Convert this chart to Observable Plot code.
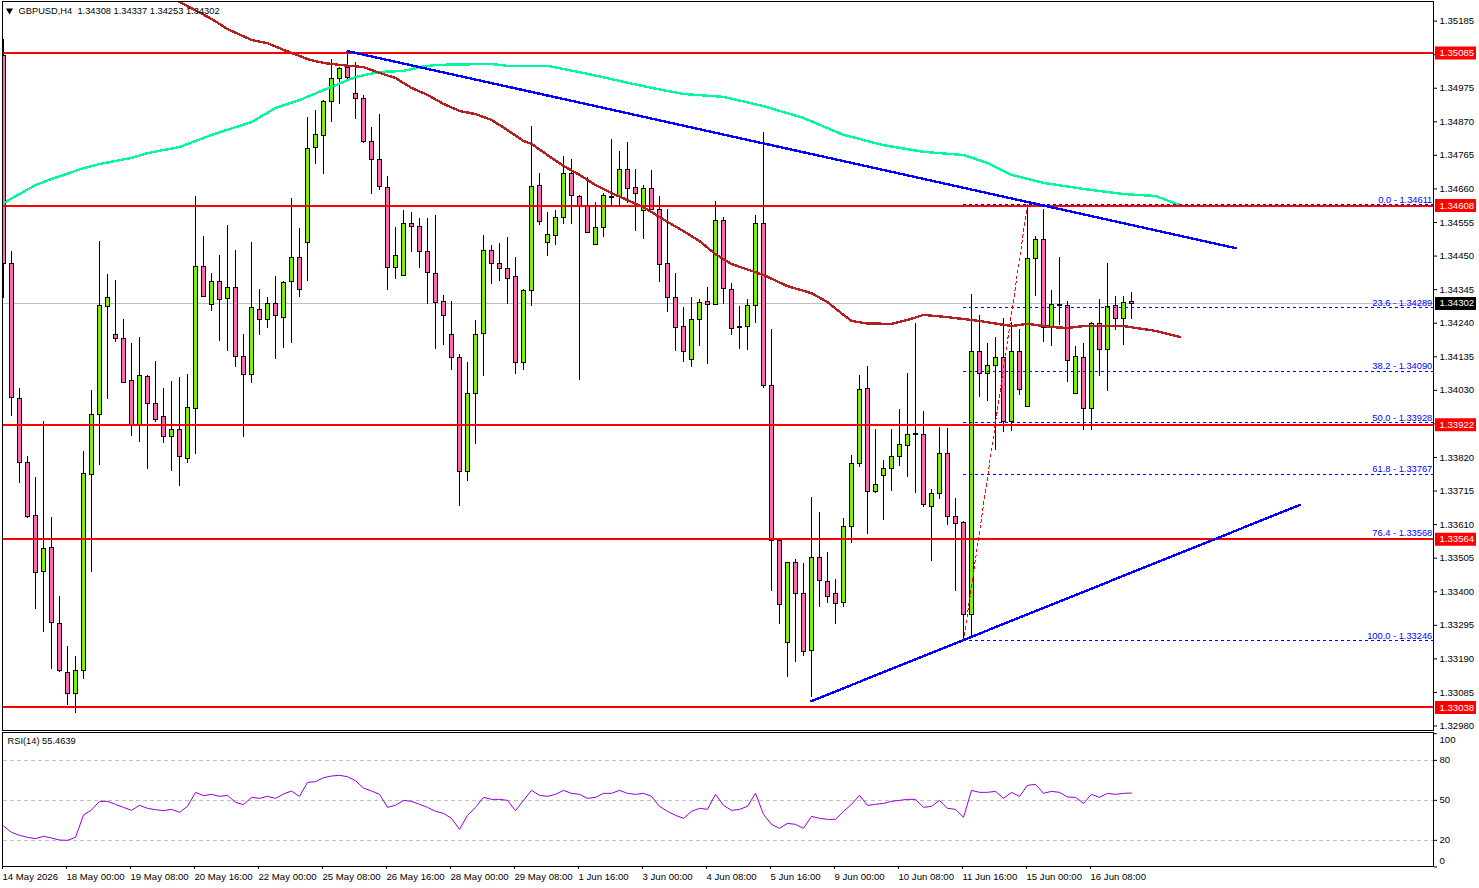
<!DOCTYPE html>
<html><head><meta charset="utf-8">
<style>html,body{margin:0;padding:0;background:#fff;overflow:hidden}svg{display:block;max-width:none!important}</style>
<script src="https://cdn.jsdelivr.net/npm/d3@7"></script>
<script src="https://cdn.jsdelivr.net/npm/@observablehq/plot@0.6"></script>
</head><body><div id="chart"></div>
<script>
const wickHigh=[1.35129,1.34463,1.34037,1.33822,1.33756,1.33934,1.33631,1.33384,1.33230,1.33196,
1.33840,1.34031,1.34497,1.34391,1.34375,1.34253,1.34178,1.34194,1.34075,1.34119,
1.34037,1.34059,1.34069,1.34078,1.34635,1.34510,1.34394,1.34453,1.34547,1.34466,
1.34206,1.34494,1.34344,1.34319,1.34385,1.34369,1.34629,1.34535,1.34882,1.34904,
1.34938,1.35066,1.35041,1.35088,1.35054,1.34951,1.34851,1.34894,1.34700,1.34538,
1.34591,1.34585,1.34569,1.34566,1.34578,1.34328,1.34309,1.34141,1.34116,1.34250,
1.34513,1.34482,1.34488,1.34507,1.34447,1.34344,1.34854,1.34707,1.34585,1.34591,
1.34760,1.34751,1.34638,1.34697,1.34619,1.34647,1.34816,1.34776,1.34804,1.34722,
1.34672,1.34719,1.34635,1.34597,1.34397,1.34288,1.34319,1.34313,1.34353,1.34622,
1.34572,1.34363,1.34291,1.34313,1.34578,1.34835,1.34219,1.33568,1.33490,1.33502,
1.33487,1.33696,1.33649,1.33524,1.33437,1.33628,1.33825,1.34075,1.34106,1.33906,
1.33809,1.33906,1.33969,1.34084,1.34238,1.33965,1.33721,1.33915,1.33912,1.33693,
1.33621,1.34331,1.34263,1.34178,1.34194,1.34256,1.34241,1.34219,1.34603,1.34510,
1.34597,1.34341,1.34444,1.34309,1.34166,1.34178,1.34241,1.34313,1.34428,1.34325,
1.34322,1.34337];
const bodyTop=[1.35076,1.34428,1.34003,1.33803,1.33637,1.33534,1.33537,1.33302,1.33146,1.33155,
1.33771,1.33953,1.34294,1.34319,1.34206,1.34191,1.34062,1.34075,1.34072,1.33990,
1.33947,1.33906,1.33906,1.33975,1.34416,1.34416,1.34369,1.34369,1.34353,1.34353,
1.34137,1.34288,1.34284,1.34303,1.34303,1.34366,1.34444,1.34444,1.34788,1.34829,
1.34935,1.35007,1.35038,1.35041,1.34960,1.34944,1.34807,1.34751,1.34666,1.34453,
1.34553,1.34553,1.34541,1.34463,1.34397,1.34309,1.34206,1.34134,1.34019,1.34206,
1.34466,1.34466,1.34428,1.34410,1.34385,1.34341,1.34669,1.34672,1.34516,1.34572,
1.34707,1.34707,1.34635,1.34604,1.34538,1.34638,1.34636,1.34722,1.34722,1.34663,
1.34660,1.34660,1.34597,1.34428,1.34319,1.34231,1.34253,1.34306,1.34309,1.34560,
1.34560,1.34347,1.34230,1.34294,1.34553,1.34553,1.34044,1.33559,1.33490,1.33490,
1.33396,1.33506,1.33506,1.33431,1.33396,1.33603,1.33800,1.34034,1.34037,1.33737,
1.33787,1.33822,1.33862,1.33893,1.33894,1.33893,1.33706,1.33834,1.33834,1.33634,
1.33618,1.34153,1.34150,1.34109,1.34134,1.34134,1.34153,1.34153,1.34441,1.34503,
1.34503,1.34297,1.34300,1.34294,1.34137,1.34134,1.34238,1.34238,1.34291,1.34294,
1.34306,1.34308];
const bodyBottom=[1.34428,1.34009,1.33803,1.33634,1.33459,1.33462,1.33305,1.33155,1.33083,1.33083,
1.33155,1.33768,1.33953,1.34291,1.34191,1.34056,1.33922,1.33922,1.33990,1.33940,
1.33887,1.33887,1.33822,1.33818,1.33972,1.34325,1.34300,1.34313,1.34316,1.34137,
1.34081,1.34081,1.34253,1.34253,1.34263,1.34259,1.34369,1.34347,1.34491,1.34791,
1.34826,1.34935,1.35007,1.35010,1.34944,1.34807,1.34751,1.34669,1.34413,1.34413,
1.34388,1.34541,1.34463,1.34400,1.34306,1.34263,1.34134,1.33775,1.33775,1.34019,
1.34209,1.34428,1.34410,1.34381,1.34116,1.34116,1.34341,1.34557,1.34491,1.34513,
1.34572,1.34638,1.34607,1.34525,1.34485,1.34538,1.34632,1.34635,1.34660,1.34647,
1.34591,1.34597,1.34425,1.34319,1.34228,1.34153,1.34128,1.34253,1.34300,1.34300,
1.34350,1.34225,1.34226,1.34231,1.34294,1.34044,1.33559,1.33359,1.33240,1.33393,
1.33212,1.33215,1.33434,1.33384,1.33362,1.33365,1.33603,1.33800,1.33715,1.33715,
1.33765,1.33787,1.33822,1.33859,1.33891,1.33674,1.33668,1.33706,1.33634,1.33612,
1.33330,1.33330,1.34084,1.34084,1.34109,1.33934,1.33934,1.34034,1.33981,1.34441,
1.34228,1.34228,1.34294,1.34122,1.34019,1.33972,1.33972,1.34159,1.34159,1.34256,
1.34256,1.34302];
const wickLow=[1.34316,1.33947,1.33740,1.33628,1.33346,1.33274,1.33158,1.33146,1.33043,1.33018,
1.33127,1.33459,1.33796,1.34000,1.34181,1.34053,1.33887,1.33868,1.33781,1.33928,
1.33865,1.33775,1.33728,1.33800,1.33828,1.34319,1.34278,1.34184,1.34150,1.34103,
1.33884,1.34050,1.34200,1.34225,1.34128,1.34162,1.34178,1.34319,1.34372,1.34738,
1.34704,1.34869,1.34923,1.35001,1.34876,1.34801,1.34644,1.34654,1.34341,1.34378,
1.34388,1.34460,1.34410,1.34300,1.34159,1.34169,1.34091,1.33668,1.33746,1.33862,
1.34072,1.34360,1.34372,1.34300,1.34078,1.34091,1.34291,1.34547,1.34450,1.34482,
1.34550,1.34550,1.34062,1.34525,1.34485,1.34507,1.34607,1.34607,1.34613,1.34528,
1.34503,1.34591,1.34366,1.34272,1.34153,1.34116,1.34100,1.34166,1.34112,1.34300,
1.34300,1.34200,1.34159,1.34156,1.34238,1.34037,1.33402,1.33299,1.33133,1.33180,
1.33196,1.33068,1.33352,1.33362,1.33299,1.33352,1.33552,1.33790,1.33578,1.33706,
1.33624,1.33715,1.33793,1.33756,1.33706,1.33665,1.33496,1.33690,1.33606,1.33402,
1.33255,1.33258,1.34009,1.33994,1.33843,1.33897,1.33900,1.34015,1.33981,1.34325,
1.34181,1.34166,1.34234,1.34056,1.34019,1.33903,1.33903,1.34072,1.34025,1.34216,
1.34169,1.34253];
const bullish=[0,0,0,0,0,1,0,0,0,1, 1,1,1,1,0,0,0,1,0,0, 0,1,0,1,1,0,1,0,1,0, 0,1,0,1,0,1,1,0,1,1,
1,1,1,0,0,0,0,0,0,1, 1,0,0,0,0,0,0,0,1,1, 1,0,0,0,0,1,1,0,1,1, 1,0,0,0,1,1,1,1,0,0,
1,0,0,0,0,0,1,1,0,1, 0,0,0,1,1,0,0,0,1,0, 0,1,0,0,0,1,1,1,0,1, 1,1,1,1,0,0,1,1,0,0,
0,1,0,1,1,0,1,0,1,1, 0,1,0,0,1,0,1,0,1,0, 1,0];

const slowMaBars=[0,4,6,10,12,16,18,22,26,31,34,37,40,44,47,50,52,54,61,63,68,70,73,77,81,85,90,95,100,105,110,115,120,123,126,130,135,140,144,147];
const slowMa=[1.34616,1.34672,1.34691,1.34725,1.34738,1.34757,1.34772,1.34791,1.34829,1.34869,1.34913,1.34938,1.34969,1.35010,1.35026,1.35029,1.35041,1.35048,1.35051,1.35045,1.35045,1.35035,1.35020,1.34998,1.34976,1.34957,1.34948,1.34919,1.34882,1.34829,1.34797,1.34776,1.34766,1.34741,1.34704,1.34679,1.34660,1.34644,1.34638,1.34610];
const fastMaBars=[22,26,28,31,33,35,37,38,40,42,45,47,49,51,53,55,57,59,61,63,65,66,68,70,72,74,76,78,80,83,85,87,89,91,95,98,101,103,105,106,108,111,113,115,118,122,126,128,131,133,135,140,144,147];
const fastMa=[1.35245,1.35192,1.35160,1.35126,1.35116,1.35095,1.35076,1.35066,1.35054,1.35048,1.35041,1.35023,1.35007,1.34976,1.34954,1.34926,1.34904,1.34894,1.34876,1.34844,1.34810,1.34801,1.34766,1.34732,1.34704,1.34672,1.34647,1.34625,1.34603,1.34557,1.34528,1.34497,1.34456,1.34425,1.34391,1.34356,1.34334,1.34306,1.34266,1.34247,1.34239,1.34238,1.34250,1.34266,1.34259,1.34247,1.34231,1.34238,1.34228,1.34225,1.34231,1.34231,1.34216,1.34197];

const rsi=[30.75,26,23.75,22.25,21.25,23,21.75,20.25,20,22.25,39,42.75,49.25,49.25,47,44.75,42.5,46.25,44,43,
42.25,43.25,41,45.5,56,53.5,54.5,53,53.75,48.5,46.75,52.25,51.5,53,51.5,54.75,57,53,63.5,64,
67,68.25,68.75,67.75,64.75,59.25,57,54.5,44.75,46.25,50,49.25,47,44.75,41.75,40.25,36.5,28.25,38.75,44.75,
52.25,50.75,50.75,50,42.25,50,57.5,53.75,53,54.5,57.5,55.25,54.5,51.5,52.25,55.25,55.25,57.5,55.25,54.5,
55.25,53,45.5,41.75,38.75,36.5,41.75,44,43.25,54.5,46.25,42.5,43.25,45.5,55.25,39.5,32,29,32.75,32,
29,38,36.5,35.75,35.75,41.75,47,53.75,46.25,47,47.75,49.25,50,50.75,50.75,44.75,45.5,50,44,43.25,
37.25,57.5,56,56,56.75,51.5,56,53,61.25,62,55.25,56.75,56,52.5,52.25,47.75,54.5,52.25,55.25,54.5,
55.25,55.46];

const supportLevels=[1.35085,1.34608,1.33922,1.33564,1.33038];
const lastPrice=1.34302;
const priceTicks=[1.35185,1.35080,1.34975,1.34870,1.34765,1.34660,1.34555,1.34450,1.34345,1.34240,1.34135,1.34030,1.33925,1.33820,1.33715,1.33610,1.33505,1.33400,1.33295,1.33190,1.33085,1.32980];
const fibNames=["0.0","23.6","38.2","50.0","61.8","76.4","100.0"];
const fibPrices=[1.34611,1.34289,1.34090,1.33928,1.33767,1.33568,1.33246];
const fibStartBar=120, fibEndBar=128;
const downTrendBars=[43,154], downTrendPrices=[1.35091,1.34475];
const upTrendBars=[101,162], upTrendPrices=[1.33058,1.33671];
const dateLabels=["14 May 2026","18 May 00:00","19 May 08:00","20 May 16:00","22 May 00:00","25 May 08:00","26 May 16:00","28 May 00:00","29 May 08:00","1 Jun 16:00","3 Jun 00:00","4 Jun 08:00","5 Jun 16:00","9 Jun 00:00","10 Jun 08:00","11 Jun 16:00","15 Jun 00:00","16 Jun 08:00"];
const barsPerLabel=8;
const headerText="GBPUSD,H4  1.34308 1.34337 1.34253 1.34302";
const rsiHeader="RSI(14) 55.4639";
const rsiLevels=[80,50,20];
const rsiTicks=[100,80,50,20,0];

const bars=wickHigh.map((h,i)=>({bar:i,high:h,low:wickLow[i],top:bodyTop[i],bottom:bodyBottom[i],up:bullish[i]===1}));
const zip=(xs,ys)=>xs.map((x,i)=>({x,y:ys[i]}));
const RED="#ff0000",BLUE="#0000ff",CRISP="crispEdges";
const xScale={domain:[-0.125,178.75],range:[2,1433],axis:null};
const END=178.75,TAG_A=179,TAG_B=184.125,LABEL_X=179.5,FIB_LABEL_X=178.6;
const font={fontFamily:"'Liberation Sans',Arial,sans-serif",fontSize:"9.6px",background:"#fff",color:"#000"};
const candle=(data,fill)=>Plot.rect(data,{x1:d=>d.bar-0.25,x2:d=>d.bar+0.25,y1:"bottom",y2:"top",fill,stroke:"#000",strokeWidth:1,dx:0.5,dy:0.5,clip:true,shapeRendering:CRISP});

const main=Plot.plot({
  width:1479,height:732,marginLeft:2,marginRight:46,marginTop:1,marginBottom:2,
  style:font,
  x:xScale,
  y:{domain:[1.32966,1.352463],range:[730,1],axis:null},
  marks:[
    Plot.ruleY([lastPrice],{x1:0,x2:END,stroke:"#c0c0c0",strokeWidth:1,shapeRendering:CRISP}),
    Plot.ruleX(bars,{x:"bar",y1:"low",y2:"high",stroke:"#000",strokeWidth:1,clip:true,shapeRendering:CRISP}),
    candle(bars.filter(d=>d.up),"#7cf000"),
    candle(bars.filter(d=>!d.up),"#ff69b4"),
    Plot.line(zip(slowMaBars,slowMa),{x:"x",y:"y",stroke:"#00fa9a",strokeWidth:2.4,clip:true,shapeRendering:CRISP}),
    Plot.line(zip(fastMaBars,fastMa),{x:"x",y:"y",stroke:"#b22222",strokeWidth:2.4,clip:true,shapeRendering:CRISP}),
    Plot.ruleY(fibPrices,{x1:fibStartBar,x2:END,stroke:BLUE,strokeWidth:1,strokeDasharray:"3,3",shapeRendering:CRISP}),
    Plot.ruleY(supportLevels,{x1:0,x2:END,stroke:RED,strokeWidth:2,clip:true,shapeRendering:CRISP}),
    Plot.line(zip([fibStartBar,fibEndBar],[fibPrices[6],fibPrices[0]]),{x:"x",y:"y",stroke:RED,strokeWidth:1,strokeDasharray:"3,3",shapeRendering:CRISP}),
    Plot.line(zip(downTrendBars,downTrendPrices),{x:"x",y:"y",stroke:BLUE,strokeWidth:2.4,shapeRendering:CRISP}),
    Plot.line(zip(upTrendBars,upTrendPrices),{x:"x",y:"y",stroke:BLUE,strokeWidth:2.4,shapeRendering:CRISP}),
    Plot.text(fibPrices,{x:FIB_LABEL_X,y:d=>d,text:(d,i)=>`${fibNames[i]} - ${d.toFixed(5)}`,textAnchor:"end",dy:-5,fill:BLUE,fontSize:9.3}),
    Plot.axisY(priceTicks,{anchor:"right",tickFormat:d=>d.toFixed(5),tickSize:3,tickPadding:3,label:null}),
    Plot.ruleY(supportLevels,{x1:TAG_A,x2:TAG_B,stroke:RED,strokeWidth:13}),
    Plot.ruleY([lastPrice],{x1:TAG_A,x2:TAG_B,stroke:"#000",strokeWidth:13}),
    Plot.text(supportLevels.concat([lastPrice]),{x:LABEL_X,y:d=>d,text:d=>d.toFixed(5),textAnchor:"start",fill:"#fff"}),
    Plot.dot([0],{frameAnchor:"top-left",dx:7,dy:9,symbol:"triangle",rotate:180,r:2.6,fill:"#000"}),
    Plot.text([headerText],{frameAnchor:"top-left",dx:16,dy:6,fontSize:9.3}),
    Plot.frame({stroke:"#000",strokeWidth:1})
  ]
});

const lower=Plot.plot({
  width:1479,height:156,marginLeft:2,marginRight:46,marginTop:0,marginBottom:22,
  style:font,
  x:xScale,
  y:{domain:[0,100],range:[134.5,1.2],axis:null},
  marks:[
    Plot.ruleY(rsiLevels,{x1:0,x2:END,stroke:"#c0c0c0",strokeWidth:1,strokeDasharray:"4,3",shapeRendering:CRISP}),
    Plot.line(rsi,{x:(d,i)=>i,y:d=>d,stroke:"#9400d3",strokeWidth:1}),
    Plot.axisY(rsiTicks,{anchor:"right",fill:"none",stroke:"#000",tickSize:3,label:null}),
    Plot.text(rsiLevels,{x:LABEL_X,y:d=>d,text:d=>String(d),textAnchor:"start"}),
    Plot.text([100],{x:LABEL_X,y:d=>d,text:d=>String(d),textAnchor:"start",dy:6}),
    Plot.text([0],{x:LABEL_X,y:d=>d,text:d=>String(d),textAnchor:"start",dy:-6}),
    Plot.axisX(dateLabels.map((_,i)=>i*barsPerLabel),{anchor:"bottom",tickFormat:d=>dateLabels[d/barsPerLabel],textAnchor:"start",tickSize:3,tickPadding:4,dx:-1,label:null}),
    Plot.text([rsiHeader],{frameAnchor:"top-left",dx:5,dy:5,fontSize:9.3}),
    Plot.frame({stroke:"#000",strokeWidth:1})
  ]
});
const root=document.getElementById("chart");
root.append(main,lower);
</script></body></html>
